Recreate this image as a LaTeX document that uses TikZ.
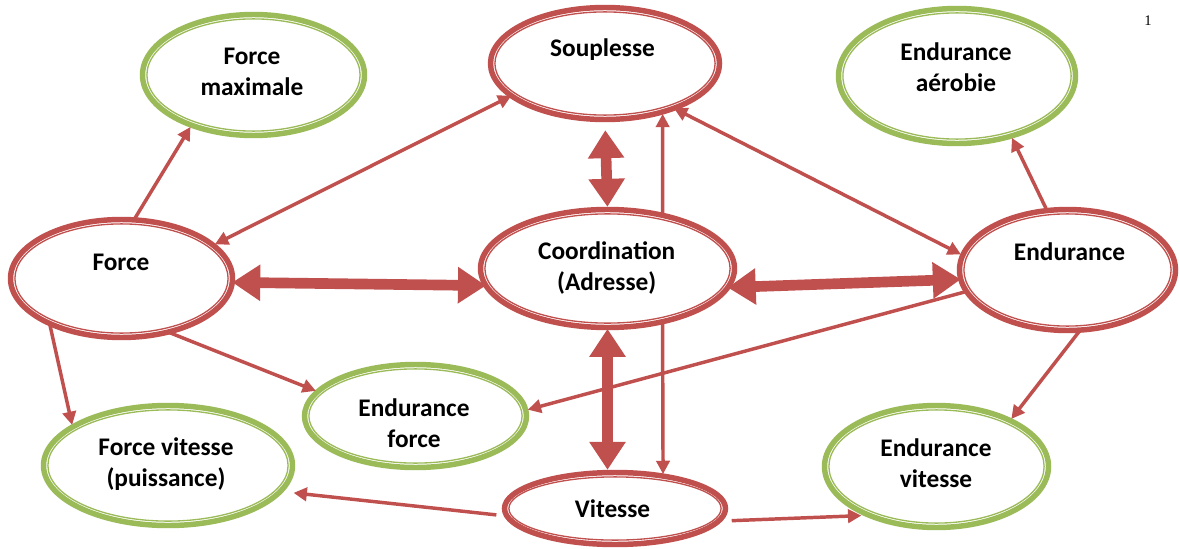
\documentclass[tikz,border=0pt]{standalone}
\usepackage{fontspec}
\setmainfont{Carlito}
\newfontfamily\numfont{Liberation Serif}
\usetikzlibrary{arrows.meta}
\usetikzlibrary{shapes.geometric}
\usetikzlibrary{calc}
\definecolor{ringred}{HTML}{C0504D}
\definecolor{ringgreen}{HTML}{9BBB59}
\newcommand{\ringgap}{3.3pt}

\begin{document}
\begin{tikzpicture}[x=0.75pt,y=-0.75pt]
    \useasboundingbox (0,0) rectangle (1180,549);

    % ovals
    \begin{scope}[every node/.style={ellipse,line width=4.1pt,outer sep=0pt,inner sep=0pt}]
        \node[draw=ringgreen, minimum width=166.5pt, minimum height=90.75pt] (fmax) at (253.5,75) {};
        \node[draw=ringred, minimum width=171.75pt, minimum height=84pt] (soup) at (605,63.5) {};
        \node[draw=ringgreen, minimum width=177.75pt, minimum height=101.25pt] (eaero) at (957,76) {};
        \node[draw=ringred, minimum width=166.5pt, minimum height=88.5pt] (force) at (121.5,278.5) {};
        \node[draw=ringred, minimum width=190.5pt, minimum height=88.5pt] (coord) at (607.5,268.5) {};
        \node[draw=ringred, minimum width=162pt, minimum height=90.75pt] (endur) at (1067.5,270) {};
        \node[draw=ringgreen, minimum width=166.5pt, minimum height=77.25pt] (eforce) at (415.5,416) {};
        \node[draw=ringgreen, minimum width=186.75pt, minimum height=90pt] (fvit) at (168,465.5) {};
        \node[draw=ringgreen, minimum width=168pt, minimum height=91.5pt] (evit) at (936.5,466.5) {};
        \node[draw=ringred, minimum width=165.75pt, minimum height=54pt] (vit) at (615,508.5) {};
    \end{scope}

    % thin inner line of each oval
    \foreach \nd/\c in {fmax/ringgreen, soup/ringred, eaero/ringgreen, force/ringred, coord/ringred,
                       endur/ringred, eforce/ringgreen, fvit/ringgreen, evit/ringgreen, vit/ringred}
        \draw[\c, line width=1pt] let \p1=($(\nd.east)-(\nd.center)$), \p2=($(\nd.north)-(\nd.center)$)
            in (\nd.center) ellipse ({\x1-\ringgap} and {\y2-\ringgap});

    % labels
    \begin{scope}[every node/.style={font=\fontsize{19}{23}\selectfont\bfseries, align=center, inner sep=0pt}]
        \node (fmax-t) at (252,72) {Force\\maximale};
        \node (soup-t) at (602.5,50) {Souplesse};
        \node (eaero-t) at (956,67) {Endurance\\aérobie};
        \node (force-t) at (121,262) {Force};
        \node (coord-t) at (606.7,268) {Coordination\\(Adresse)};
        \node (endur-t) at (1069.5,252) {Endurance};
        \node (eforce-t) at (414,423) {Endurance\\force};
        \node (fvit-t) at (166,464) {Force vitesse\\(puissance)};
        \node (evit-t) at (936,463.5) {Endurance\\vitesse};
        \node (vit-t) at (612.5,509) {Vitesse};
    \end{scope}
    \node[font=\numfont\fontsize{11}{11}\selectfont] (page) at (1148,21) {1};

    % thin arrows
    \begin{scope}[>={Triangle[length=10pt,width=10pt]},
        every edge/.style={draw=ringred, line width=2.6pt, shorten >=1.5pt}]
        \path [->] (force.78) edge (fmax.219);
        \path [<->] (soup.199) edge (force.20);
        \path [<->] (soup.-33) edge (endur.172);
        \path [->] (endur.109) edge (eaero.-48);
        \path [->] (coord.44.4) edge (soup.-40.5);
        \path [->] (coord.-44.4) edge (vit.34.7);
        \path [->] (force.212) edge (fvit.158);
        \path [->] (force.-49) edge (eforce.166);
        \path [->] (endur.192) edge (eforce.3);
        \path [->] (endur.-78) edge (evit.32);
        \path [->] (vit.184) edge[shorten <=8pt, shorten >=10pt] (fvit.-13);
        \path [->] (vit.-7) edge[shorten <=10pt, shorten >=6pt] (evit.216);
    \end{scope}

    % thick arrows
    \begin{scope}[>={Triangle[length=21pt,width=26pt]},
        every edge/.style={draw=ringred, line width=8pt}]
        \path [<->] (force.-2) edge (coord.188.5);
        \path [<->] (coord.-9.6) edge (endur.185);
        \path [<->] (soup.south) edge[shorten <=8pt, shorten >=2pt] (coord.north);
        \path [<->] (coord.south) edge[shorten <=1pt, shorten >=2pt] (coord.south |- vit.north);
    \end{scope}
\end{tikzpicture}
\end{document}
